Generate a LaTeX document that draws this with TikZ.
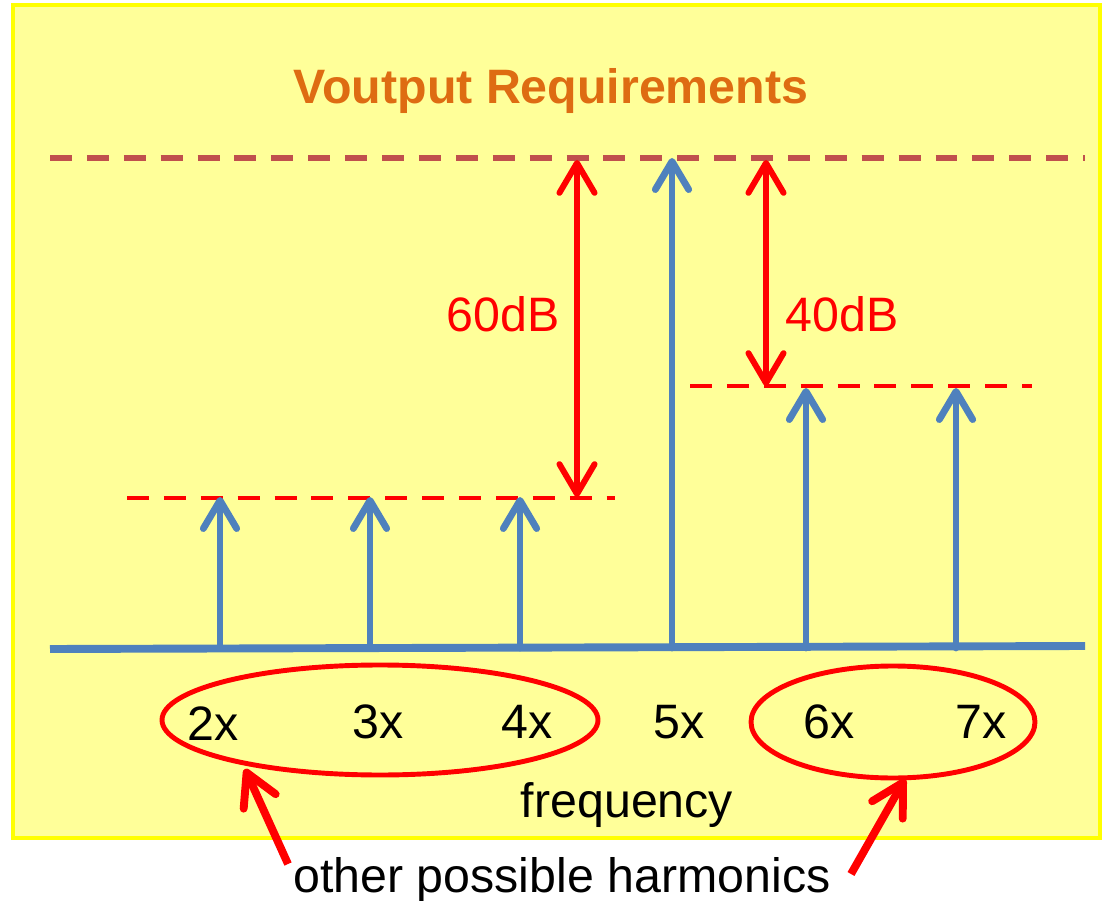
\documentclass[tikz,border=0pt]{standalone}
\usepackage{fontspec}
\setmainfont{Liberation Sans}
\usetikzlibrary{arrows.meta}

\definecolor{slidefill}{RGB}{255,255,153}
\definecolor{slideedge}{RGB}{255,255,0}
\definecolor{spikeblue}{RGB}{79,129,189}
\definecolor{toplevel}{RGB}{192,80,77}
\definecolor{titleorange}{RGB}{222,108,18}

\begin{document}
\begin{tikzpicture}[x=0.02cm, y=-0.02cm,
    lbl/.style={font=\fontsize{27.5}{32}\selectfont, inner sep=0pt},
    spike/.style={draw=spikeblue, line width=3.9pt, line cap=round, -{Straight Barb[length=16pt, width=19pt, round]}},
    gap/.style={draw=red, line width=3.4pt, {Straight Barb[length=17pt, width=20pt, round]}-{Straight Barb[length=17pt, width=20pt, round]}},
    level/.style={draw=red, line width=2.8pt, dash pattern=on 12.5pt off 8.5pt},
    ring/.style={draw=red, line width=2.8pt},
    pointer/.style={draw=red, line width=4.5pt, -{Straight Barb[length=18pt, width=20pt, round]}}]

    \useasboundingbox (0,0) rectangle (1108,901);
    \draw[slideedge, fill=slidefill, line width=2.5pt] (13,5) rectangle (1100,838);

    \node[lbl, font=\fontsize{27.5}{32}\selectfont\bfseries, text=titleorange, anchor=base] (title) at (551,104) {Voutput Requirements};

    % reference levels
    \draw[toplevel, line width=3.2pt, dash pattern=on 12.5pt off 8.5pt] (50,158) -- (1085,158);
    \draw[level] (127,498) -- (615,498);
    \draw[level] (690,386) -- (1032,386);

    % frequency axis
    \coordinate (axisstart) at (50,649);
    \coordinate (axisend) at (1085,646);
    \draw[spikeblue, line width=4.5pt] (axisstart) -- (axisend);

    % harmonics
    \foreach \n/\px/\py in {2/220/497, 3/370/497, 4/520/497, 5/672/158, 6/806/388, 7/956/388} {
        \coordinate (h\n base) at (\px,648);
        \coordinate (h\n top) at (\px,\py);
        \path[spike] (h\n base) -- (h\n top);
    }

    % distances
    \coordinate (gap60 top) at (577,160);
    \coordinate (gap60 bottom) at (577,497);
    \coordinate (gap40 top) at (766,160);
    \coordinate (gap40 bottom) at (766,386);
    \path[gap] (gap60 top) -- (gap60 bottom);
    \path[gap] (gap40 top) -- (gap40 bottom);
    \node[lbl, text=red] (db60) at (503,314) {60dB};
    \node[lbl, text=red] (db40) at (842,314) {40dB};

    % labels
    \node[lbl] (lbl2) at (213,724) {2x};
    \foreach \n/\px in {3/378, 4/527, 5/679, 6/829, 7/981}
        \node[lbl] (lbl\n) at (\px,722) {\n x};
    \node[lbl, anchor=base] (freq) at (627,817) {frequency};

    % groups
    \draw[ring] (380,720) ellipse [x radius=218, y radius=55];
    \draw[ring] (893,722) ellipse [x radius=142, y radius=56];
    \node[lbl, anchor=base] (other) at (562,892) {other possible harmonics};
    \coordinate (lowtip) at (245,769);
    \coordinate (lowtail) at (288,864);
    \coordinate (hightip) at (905,779);
    \coordinate (hightail) at (851,874);
    \path[pointer] (lowtail) -- (lowtip);
    \path[pointer] (hightail) -- (hightip);
\end{tikzpicture}
\end{document}
